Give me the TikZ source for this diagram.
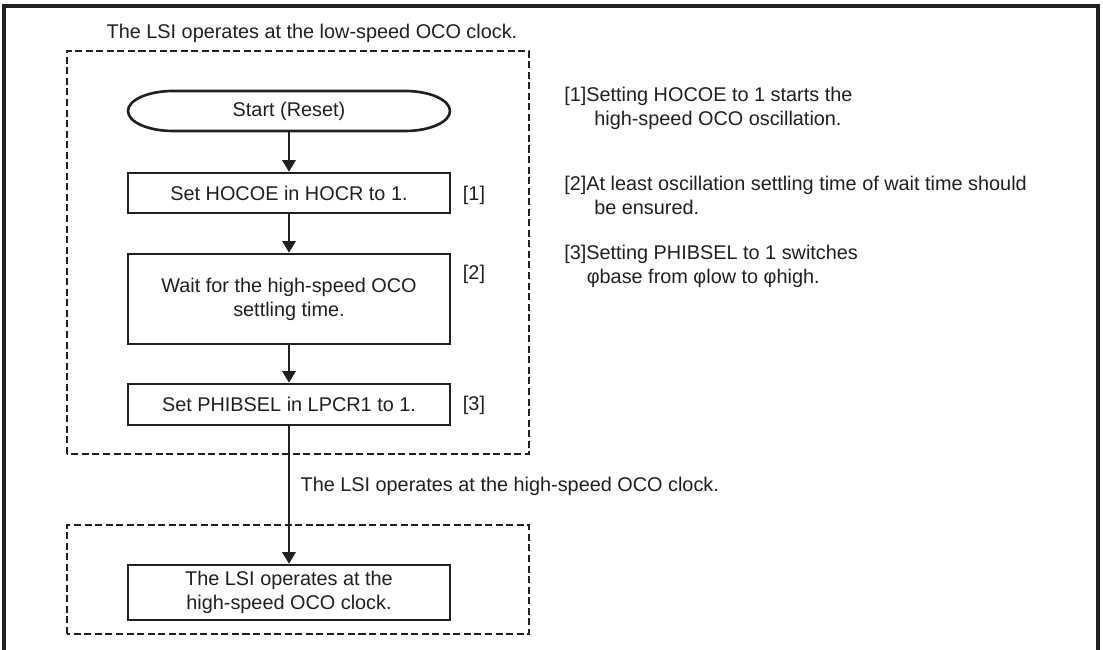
\documentclass[tikz,border=0pt]{standalone}
\usepackage{fontspec}
\setmainfont{Liberation Sans}
\usetikzlibrary{arrows.meta, positioning, calc}
\definecolor{cink}{HTML}{231F20}
\tikzset{
  every picture/.style={line width=1.5pt, draw=cink},
  every node/.style={font=\fontsize{11.3}{13.7}\selectfont, text=cink},
  box/.style={draw=cink, line width=1.5pt, minimum width=6.44cm, align=center, inner sep=2pt},
  term/.style={minimum width=6.44cm, minimum height=0.8cm, align=center, outer sep=0pt},
  arrow/.style={-{Triangle[length=2.3mm, width=2.7mm]}, draw=cink, fill=cink, line width=0.7pt},
  group/.style={draw=cink, dash pattern=on 4pt off 2pt, line width=1.5pt},
  tag/.style={inner sep=0pt},
  note/.style={align=left, anchor=west, inner sep=0pt},
}
\begin{document}
\begin{tikzpicture}
  \useasboundingbox (0,0) rectangle (22.06,13);
  % outer frame, open at the bottom
  \draw[line width=1.9pt] (0.08,0) -- (0.08,12.88) -- (21.96,12.88) -- (21.96,0);
  \node (low) at (6.24,12.34) {The LSI operates at the low-speed OCO clock.};
  \draw[group] (1.34,3.92) rectangle (10.58,11.98);
  % flow
  \node[term] (start) at (5.78,10.78) {Start (Reset)};
  \draw[line width=1.5pt] ($(start.north west)+(0.9,0)$) -- ($(start.north east)+(-0.9,0)$)
    arc[start angle=90, end angle=-90, x radius=0.9, y radius=0.4]
    -- ($(start.south west)+(0.9,0)$)
    arc[start angle=270, end angle=90, x radius=0.9, y radius=0.4] -- cycle;
  \node[box, minimum height=0.8cm] (hocoe) at (5.78,9.14) {Set HOCOE in HOCR to 1.};
  \node[box, minimum height=1.8cm] (wait) at (5.78,7.02) {Wait for the high-speed OCO\\settling time.};
  \node[box, minimum height=0.82cm] (phib) at (5.78,4.91) {Set PHIBSEL in LPCR1 to 1.};
  \node[tag] (t1) at (9.48,9.1) {[1]};
  \node[tag] (t2) at (9.48,7.52) {[2]};
  \node[tag] (t3) at (9.48,4.9) {[3]};
  \draw[group] (1.34,0.32) rectangle (10.58,2.5);
  \node[box, minimum height=1.1cm] (high) at (5.78,1.15) {The LSI operates at the\\high-speed OCO clock.};
  \draw[arrow] (start) -- (hocoe);
  \draw[arrow] (hocoe) -- (wait);
  \draw[arrow] (wait) -- (phib);
  \draw[arrow] (phib) -- node[pos=0.44, anchor=west, inner sep=0pt, xshift=0.22cm] (mid) {The LSI operates at the high-speed OCO clock.} (high);
  % notes
  \node[note] (n1) at (11.26,10.84) {[1]Setting HOCOE to 1 starts the\\\hspace*{0.6cm}high-speed OCO oscillation.};
  \node[note] (n2) at (11.26,9.1) {[2]At least oscillation settling time of wait time should\\\hspace*{0.6cm}be ensured.};
  \node[note] (n3) at (11.26,7.68) {[3]Setting PHIBSEL to 1 switches\\\hspace*{0.45cm}φbase from φlow to φhigh.};
\end{tikzpicture}
\end{document}
